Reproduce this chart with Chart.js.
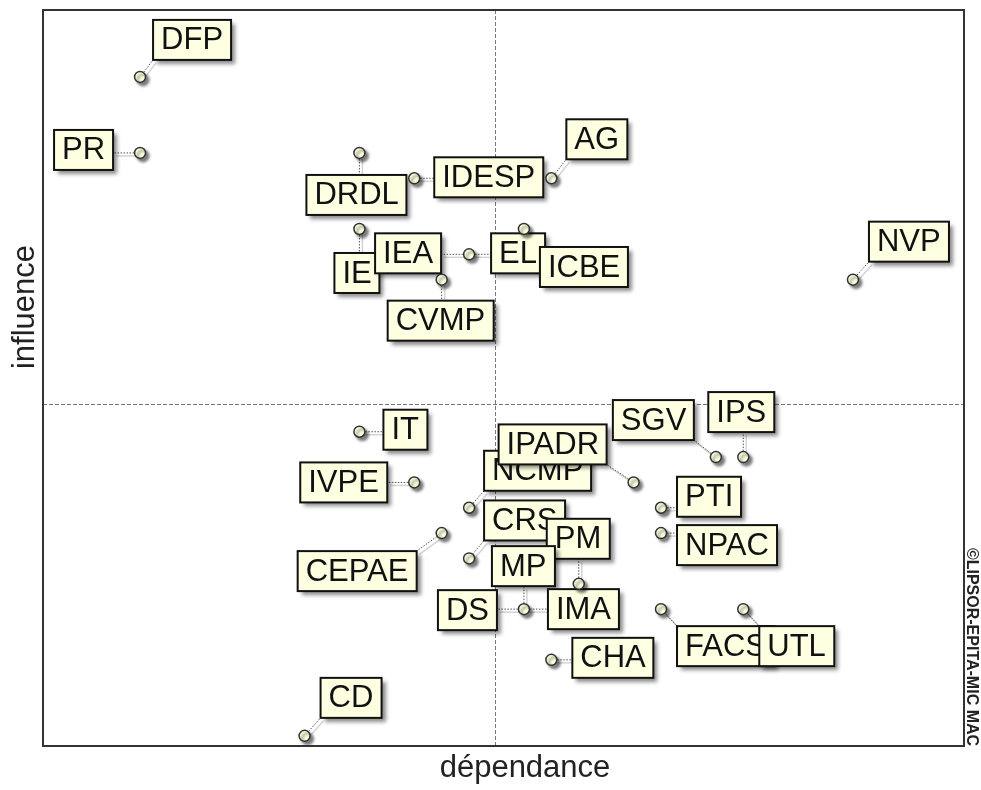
<!DOCTYPE html>
<html lang="fr">
<head>
    <meta charset="UTF-8">
    <title>MICMAC - plan influence / dépendance</title>
    <script src="https://cdn.jsdelivr.net/npm/chart.js"></script>
    <style>
        body { margin: 0; background: #fff; }
        canvas { display: block; }
    </style>
</head>
<body>
    <canvas id="micmac" width="981" height="790"></canvas>

    <script>
        // variables and their coordinates (dependance, influence)
        const variables = ['DFP', 'PR', 'DRDL', 'IDESP', 'AG', 'IE', 'IEA', 'EL', 'ICBE', 'CVMP', 'NVP',
            'IT', 'IVPE', 'NCMP', 'IPADR', 'SGV', 'IPS', 'PTI', 'NPAC', 'CRS', 'CEPAE', 'PM', 'MP',
            'DS', 'IMA', 'CHA', 'FACS', 'UTL', 'CD'];
        const dependance = [4, 4, 12, 14, 19, 12, 16, 16, 18, 15, 30,
            12, 14, 16, 22, 25, 26, 23, 23, 16, 15, 20, 18,
            18, 18, 19, 23, 26, 10];
        const influence = [27, 24, 24, 23, 23, 21, 20, 20, 21, 19, 19,
            13, 11, 10, 11, 12, 12, 10, 9, 8, 9, 7, 6,
            6, 6, 4, 6, 6, 1];
        const meanDependance = 16.95;
        const meanInfluence = 14.1;

        // where each label box sits relative to its point (layout only)
        const labelOffsets = {
            DFP: [13, -57], PR: [-86, -23], DRDL: [-53, 22], IDESP: [20, -21], AG: [15, -59],
            IE: [-25, 24], IEA: [-94, -21], EL: [22, -21], ICBE: [16, 18], CVMP: [-54, 21],
            NVP: [16, -58], IT: [24, -22], IVPE: [-114, -20], NCMP: [15, -57], IPADR: [-135, -58],
            SGV: [-103, -57], IPS: [-35, -65], PTI: [16, -31], NPAC: [16, -8], CRS: [15, -58],
            CEPAE: [-144, 18], PM: [-32, -65], MP: [-32, -63], DS: [-86, -19], IMA: [24, -20],
            CHA: [21, -22], FACS: [16, 17], UTL: [16, 17], CD: [16, -58]
        };

        const labelFont = '31px "Liberation Sans", Arial, sans-serif';
        const boxFill = '#ffffe1';

        function clamp(v, a, b) { return Math.max(a, Math.min(b, v)); }

        // a point already drawn at the same place is not drawn again
        function isRepeat(i) {
            for (let j = 0; j < i; j++) {
                if (dependance[j] === dependance[i] && influence[j] === influence[i]) return true;
            }
            return false;
        }

        function labelBoxes(chart) {
            const ctx = chart.ctx;
            const xs = chart.scales.x, ys = chart.scales.y;
            ctx.font = labelFont;
            return variables.map((name, i) => {
                const px = xs.getPixelForValue(dependance[i]);
                const py = ys.getPixelForValue(influence[i]);
                const off = labelOffsets[name];
                const w = Math.round(ctx.measureText(name).width) + 16;
                return { name, px, py, x: px + off[0], y: py + off[1], w, h: 40 };
            });
        }

        const micmacPlugin = {
            id: 'micmac',
            beforeDraw(chart) {
                const ctx = chart.ctx;
                ctx.save();
                ctx.fillStyle = '#fff';
                ctx.fillRect(0, 0, chart.width, chart.height);
                ctx.restore();
            },
            beforeDatasetsDraw(chart) {
                const ctx = chart.ctx;
                const area = chart.chartArea;
                const xs = chart.scales.x, ys = chart.scales.y;

                // mean lines
                ctx.save();
                ctx.strokeStyle = '#777';
                ctx.lineWidth = 1;
                ctx.setLineDash([4, 2]);
                const mx = Math.round(xs.getPixelForValue(meanDependance)) + 0.5;
                const my = Math.round(ys.getPixelForValue(meanInfluence)) + 0.5;
                ctx.beginPath();
                ctx.moveTo(mx, area.top);
                ctx.lineTo(mx, area.bottom);
                ctx.moveTo(area.left, my);
                ctx.lineTo(area.right, my);
                ctx.stroke();
                ctx.restore();

                const boxes = labelBoxes(chart);

                // connectors
                ctx.save();
                boxes.forEach(b => {
                    const tx = clamp(b.px, b.x, b.x + b.w);
                    const ty = clamp(b.py, b.y, b.y + b.h);
                    ctx.setLineDash([]);
                    ctx.strokeStyle = '#d4d4d4';
                    ctx.lineWidth = 1.5;
                    ctx.beginPath();
                    ctx.moveTo(b.px + 3, b.py + 3);
                    ctx.lineTo(tx + 3, ty + 3);
                    ctx.stroke();
                    ctx.setLineDash([1.5, 1.5]);
                    ctx.strokeStyle = '#555';
                    ctx.lineWidth = 1;
                    ctx.beginPath();
                    ctx.moveTo(b.px, b.py);
                    ctx.lineTo(tx, ty);
                    ctx.stroke();
                });
                ctx.restore();

                // label boxes
                boxes.forEach(b => {
                    ctx.save();
                    ctx.shadowColor = 'rgba(0,0,0,0.45)';
                    ctx.shadowBlur = 4;
                    ctx.shadowOffsetX = 4;
                    ctx.shadowOffsetY = 4;
                    ctx.fillStyle = boxFill;
                    ctx.fillRect(b.x, b.y, b.w, b.h);
                    ctx.restore();
                    ctx.save();
                    ctx.strokeStyle = '#111';
                    ctx.lineWidth = 2;
                    ctx.strokeRect(b.x, b.y, b.w, b.h);
                    ctx.fillStyle = '#111';
                    ctx.font = labelFont;
                    ctx.textBaseline = 'middle';
                    ctx.textAlign = 'left';
                    ctx.fillText(b.name, b.x + 8, b.y + b.h / 2 + 1);
                    ctx.restore();
                });
            },
            beforeDatasetDraw(chart) {
                const ctx = chart.ctx;
                ctx.save();
                ctx.shadowColor = 'rgba(0,0,0,0.5)';
                ctx.shadowBlur = 3;
                ctx.shadowOffsetX = 3;
                ctx.shadowOffsetY = 3;
            },
            afterDatasetDraw(chart) {
                chart.ctx.restore();
            },
            afterDraw(chart) {
                const ctx = chart.ctx;
                const area = chart.chartArea;

                // frame
                ctx.save();
                ctx.strokeStyle = '#333';
                ctx.lineWidth = 2;
                ctx.strokeRect(area.left, area.top, area.right - area.left, area.bottom - area.top);
                ctx.restore();

                // axis titles
                ctx.save();
                ctx.fillStyle = '#222';
                ctx.font = '31px "Liberation Sans", Arial, sans-serif';
                ctx.textAlign = 'center';
                ctx.textBaseline = 'alphabetic';
                ctx.fillText('dépendance', 525, 777);
                ctx.translate(34, 307);
                ctx.rotate(-Math.PI / 2);
                ctx.fillText('influence', 0, 0);
                ctx.restore();

                // copyright
                ctx.save();
                ctx.fillStyle = '#222';
                ctx.font = 'bold 16px "Liberation Sans", Arial, sans-serif';
                ctx.textAlign = 'center';
                ctx.textBaseline = 'middle';
                ctx.translate(971, 647);
                ctx.rotate(Math.PI / 2);
                ctx.fillText('©LIPSOR-EPITA-MIC MAC', 0, 0);
                ctx.restore();
            }
        };

        const ctx = document.getElementById('micmac').getContext('2d');
        new Chart(ctx, {
            type: 'scatter',
            data: {
                datasets: [{
                    label: 'variables',
                    data: variables.map((v, i) => ({ x: dependance[i], y: influence[i] })),
                    pointRadius: c => isRepeat(c.dataIndex) ? 0 : 5.5,
                    pointBackgroundColor: boxFill,
                    pointBorderColor: '#333',
                    pointBorderWidth: 1.5
                }]
            },
            options: {
                responsive: false,
                animation: false,
                layout: { padding: { left: 43, top: 10, right: 17, bottom: 44 } },
                plugins: {
                    legend: { display: false },
                    tooltip: { enabled: false }
                },
                scales: {
                    x: { type: 'linear', min: 0.46, max: 34.05, display: false },
                    y: { type: 'linear', min: 0.6, max: 29.64, display: false }
                }
            },
            plugins: [micmacPlugin]
        });
    </script>
</body>
</html>
